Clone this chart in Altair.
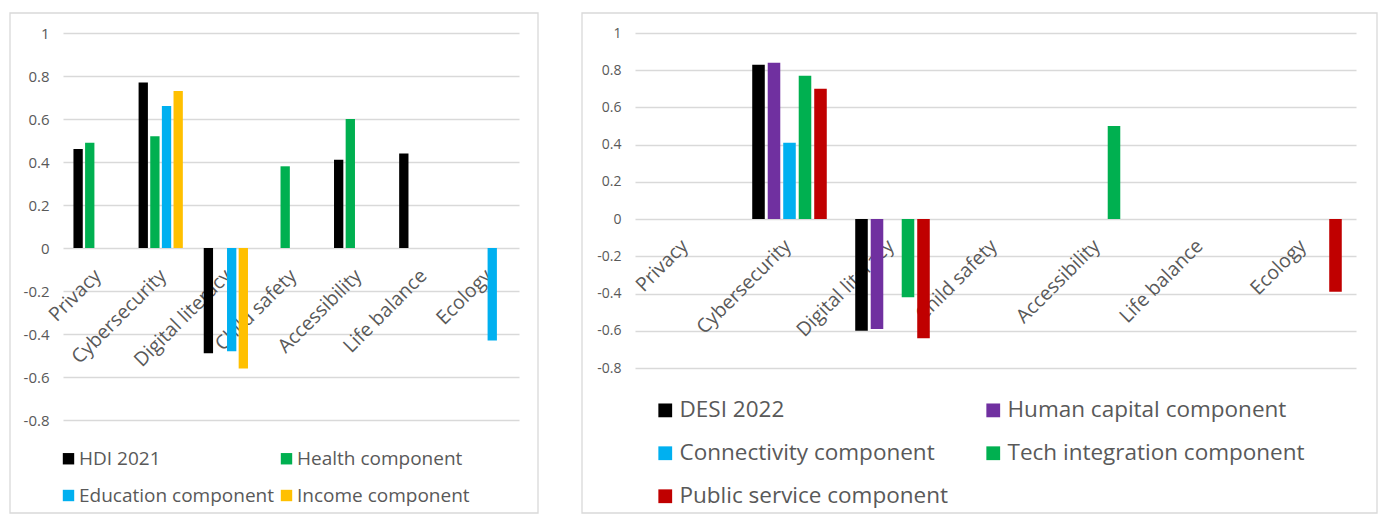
import altair as alt
import pandas as pd

categories = ["Privacy", "Cybersecurity", "Digital literacy", "Child safety",
              "Accessibility", "Life balance", "Ecology"]

# Left panel (HDI)
hdi_series = ["HDI 2021", "Health component", "Education component", "Income component"]
hdi_colors = ["#000000", "#00b050", "#00b0f0", "#ffc000"]
hdi_2021 = [0.46, 0.77, -0.49, None, 0.41, 0.44, None]
health = [0.49, 0.52, None, 0.38, 0.60, None, None]
education = [None, 0.66, -0.48, None, None, None, -0.43]
income = [None, 0.73, -0.56, None, None, None, None]

# Right panel (DESI)
desi_series = ["DESI 2022", "Human capital component", "Connectivity component",
               "Tech integration component", "Public service component"]
desi_colors = ["#000000", "#7030a0", "#00b0f0", "#00b050", "#c00000"]
desi_2022 = [None, 0.83, -0.60, None, None, None, None]
human_capital = [None, 0.84, -0.59, None, None, None, None]
connectivity = [None, 0.41, None, None, None, None, None]
tech_integration = [None, 0.77, -0.42, None, 0.50, None, None]
public_service = [None, 0.70, -0.64, None, None, None, -0.39]

y_ticks = [-0.8, -0.6, -0.4, -0.2, 0.0, 0.2, 0.4, 0.6, 0.8, 1.0]


def long_df(series_names, series_values):
    rows = []
    for name, vals in zip(series_names, series_values):
        for cat, v in zip(categories, vals):
            if v is not None:
                rows.append({"category": cat, "series": name, "value": v})
    return pd.DataFrame(rows)


GRID = "#d9d9d9"
TXT = "#595959"
FONT = "Open Sans"


def panel(df, series, colors, width, height, inner, offset_inner, ylab_size,
          xlab_size, leg_size, leg_x, leg_y, row_pad, col_pad, sym_size, lab_off,
          frame_x, frame_x2, frame_y, frame_y2, xlab_pad, xlab_off):
    zero_from_bottom = height * 0.8 / 1.8
    bars = alt.Chart(df).mark_bar().encode(
        x=alt.X("category:N", sort=categories,
                scale=alt.Scale(domain=categories, paddingInner=inner,
                                paddingOuter=inner / 2),
                axis=alt.Axis(title=None, labelAngle=-45, orient="bottom",
                              offset=-zero_from_bottom, domain=False, ticks=False,
                              labelFontSize=xlab_size, labelColor=TXT,
                              labelFont=FONT, labelPadding=xlab_pad,
                              labelOffset=xlab_off,
                              labelAlign="right", grid=False)),
        xOffset=alt.XOffset("series:N", sort=series,
                            scale=alt.Scale(domain=series, paddingInner=offset_inner,
                                            paddingOuter=offset_inner / 2)),
        y=alt.Y("value:Q",
                scale=alt.Scale(domain=[-0.8, 1.0], nice=False, zero=False),
                axis=alt.Axis(title=None, values=y_ticks, domain=False, ticks=False,
                              labelExpr="toString(round(datum.value*10)/10)",
                              labelFontSize=ylab_size, labelColor=TXT, labelFont=FONT,
                              labelPadding=14, gridColor=GRID, gridWidth=1.3)),
        color=alt.Color("series:N", sort=series,
                        scale=alt.Scale(domain=series, range=colors),
                        legend=alt.Legend(title=None, orient="none", legendX=leg_x,
                                          legendY=leg_y, columns=2,
                                          direction="horizontal",
                                          symbolType="square", symbolSize=sym_size,
                                          symbolStrokeWidth=0, labelFontSize=leg_size,
                                          labelColor=TXT, labelFont=FONT,
                                          rowPadding=row_pad, columnPadding=col_pad,
                                          labelOffset=lab_off, padding=0,
                                          labelLimit=400)),
    )
    frame = alt.Chart(alt.Data(values=[{"f": 1}])).mark_rect(
        fillOpacity=0, stroke=GRID, strokeWidth=1.3
    ).encode(x=alt.value(frame_x), x2=alt.value(frame_x2),
             y=alt.value(frame_y), y2=alt.value(frame_y2))
    return alt.layer(frame, bars).properties(width=width, height=height)


left = panel(long_df(hdi_series, [hdi_2021, health, education, income]),
             hdi_series, hdi_colors, 456, 387, 0.285, 0.2, 15, 19.5, 19,
             -4, 416, 17, 2, 130, 1, -53, 475, -20, 480, 18, -4)
right = panel(long_df(desi_series, [desi_2022, human_capital, connectivity,
                                    tech_integration, public_service]),
              desi_series, desi_colors, 721, 335, 0.2476, 0.19, 14, 19.5, 22.5,
              19, 366, 20, 33, 190, 3, -53, 742, -20, 480, 17, -8)

chart = alt.hconcat(left, right, spacing=42).resolve_scale(
    color="independent", x="independent", y="independent", xOffset="independent"
).properties(
    padding={"left": 9, "top": 12, "right": 0, "bottom": 0},
    background="white",
).configure_view(stroke=None)

chart.save("out.html", embed_options={"renderer": "svg", "actions": False})
